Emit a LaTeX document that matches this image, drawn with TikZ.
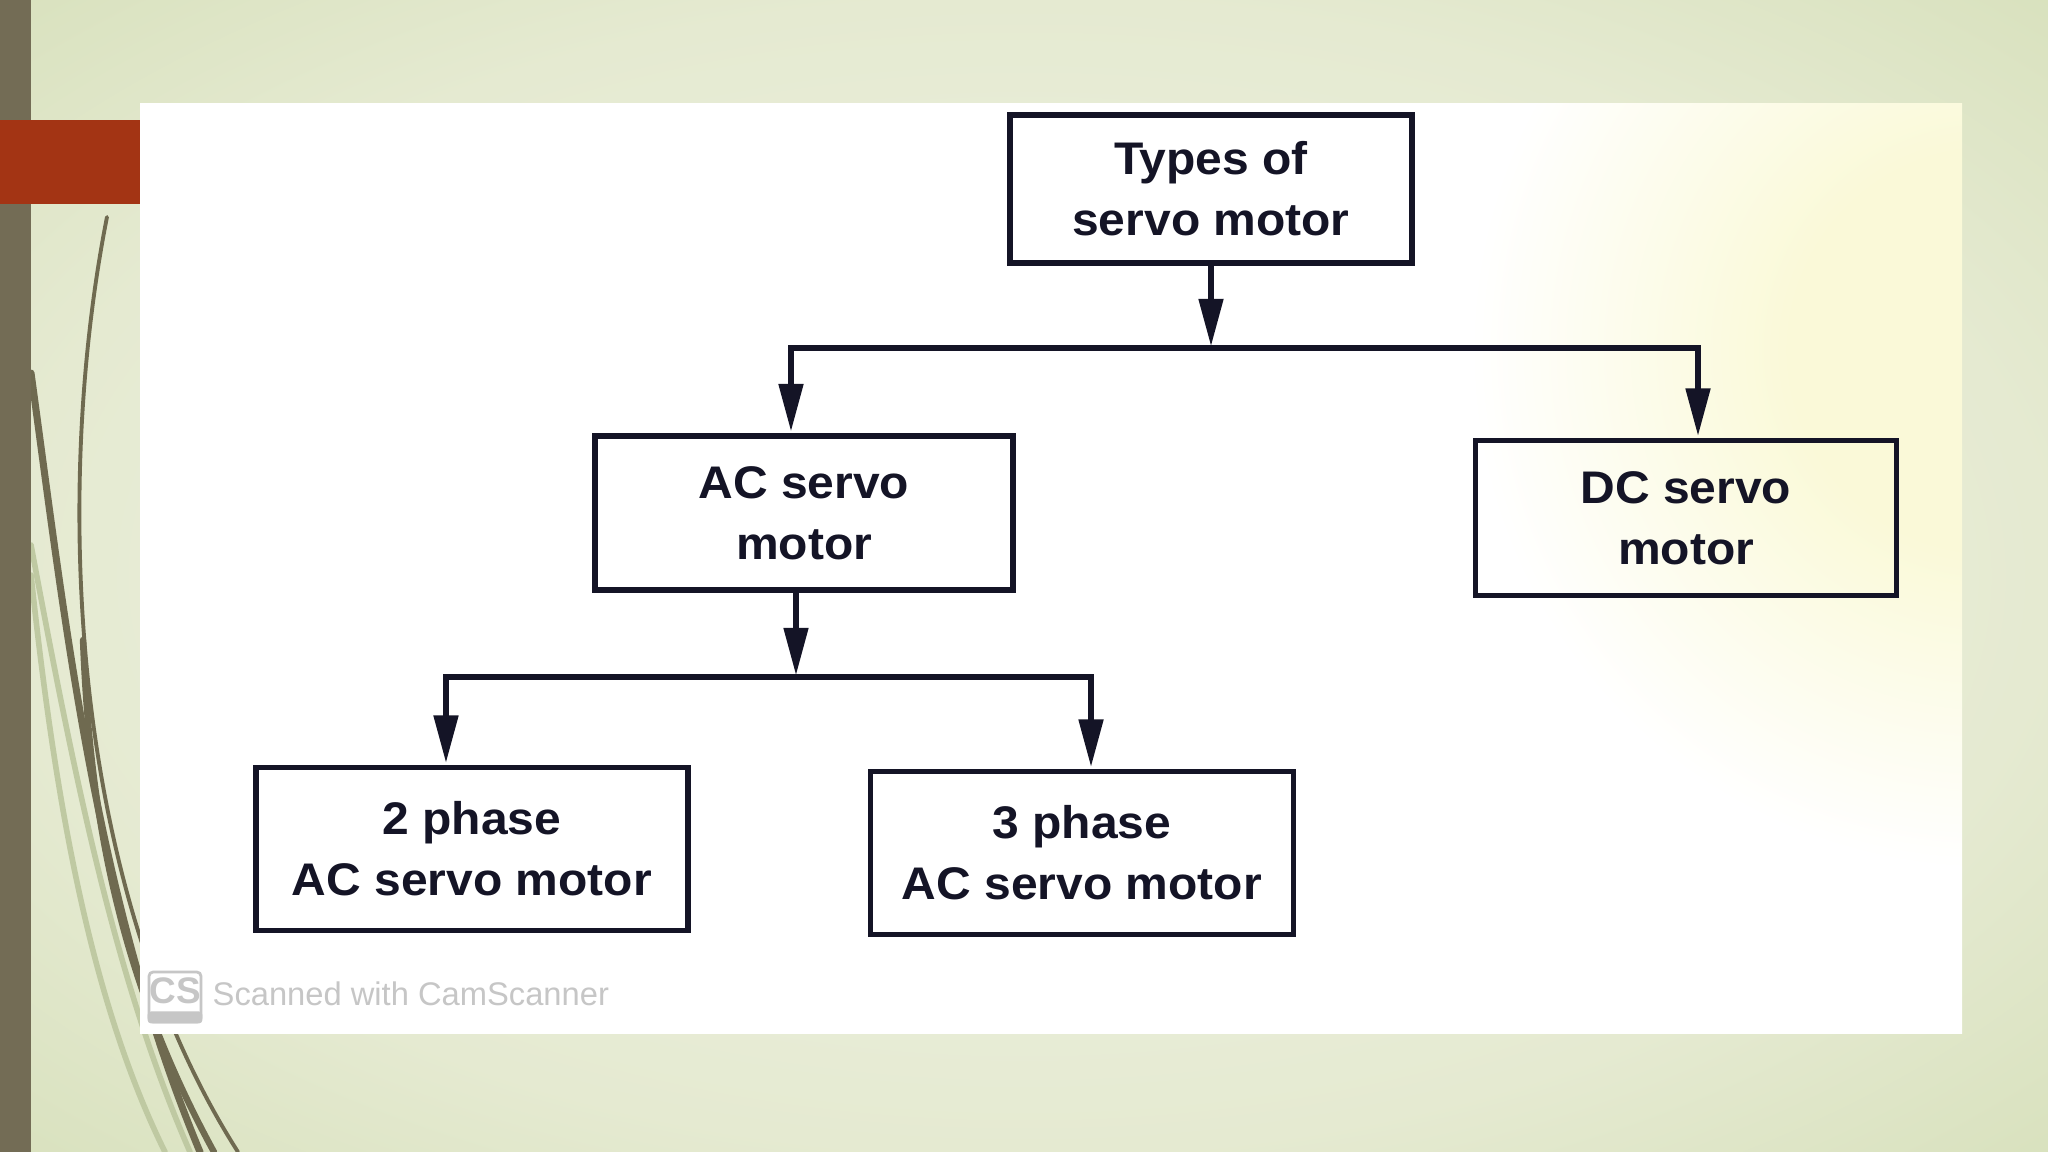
\documentclass[tikz,border=0pt]{standalone}
\usepackage{fontspec}
\setmainfont{Liberation Sans}
\newfontfamily\boxfont{Liberation Sans}[FakeStretch=1.05]
\usetikzlibrary{arrows.meta}
\definecolor{bgin}{HTML}{F1F3E7}
\definecolor{bgmid}{HTML}{E5EAD1}
\definecolor{bgout}{HTML}{D8E1BD}
\definecolor{olivebar}{HTML}{736C55}
\definecolor{redacc}{HTML}{A33414}
\definecolor{darkcurve}{HTML}{6F6A50}
\definecolor{palecurve}{HTML}{BFC9A2}
\definecolor{scanyel}{HTML}{FAF9D8}
\definecolor{ink}{HTML}{141426}
\definecolor{csgrey}{HTML}{C6C6C6}
\pgfdeclareradialshading{slidebg}{\pgfpoint{0bp}{0bp}}{color(0bp)=(bgin); color(25bp)=(bgmid); color(36bp)=(bgout); color(50bp)=(bgout)}
\pgfdeclareradialshading{scantint}{\pgfpoint{0bp}{0bp}}{color(0bp)=(scanyel); color(2.5bp)=(scanyel); color(6.5bp)=(white); color(50bp)=(white)}
\tikzset{
  box/.style={draw=ink, line width=1.6pt, align=center, text=ink, inner sep=0pt,
    font=\boxfont\bfseries\fontsize{13}{17.4}\selectfont},
  conn/.style={draw=ink, line width=1.5pt, -{Triangle[length=13.5pt,width=6.8pt]}, shorten >=0.5pt},
  swoosh/.style={draw=darkcurve, line cap=round},
  paleswoosh/.style={draw=palecurve, line cap=round, line width=1.6pt}
}
\begin{document}
\begin{tikzpicture}[x=0.01cm, y=-0.01cm]
\useasboundingbox (0,0) rectangle (2048,1152);
% slide background
\shade[shading=slidebg] (0,0) rectangle (2048,1152);
% decorative curves
\draw[paleswoosh] (31,575) .. controls (55,800) and (90,1000) .. (165,1152);
\draw[paleswoosh] (31,545) .. controls (75,780) and (115,980) .. (190,1152);
\draw[swoosh, line width=1.1pt] (107,217) .. controls (55,480) and (65,880) .. (238,1152);
\draw[swoosh, line width=2pt] (31,373) .. controls (65,620) and (95,900) .. (200,1152);
\draw[swoosh, line width=1.8pt] (83,640) .. controls (90,820) and (120,980) .. (214,1152);
% left bar and accent
\fill[olivebar] (0,0) rectangle (31,1152);
\fill[redacc] (0,120) rectangle (140,204);
% scanned page
\fill[white] (140,104) rectangle (1962,1033);
\begin{scope}
  \clip (140,104) rectangle (1962,1033);
  \shade[shading=scantint] (1990,350) circle (2000);
\end{scope}
% boxes
\node[box, minimum width=4.02cm, minimum height=1.48cm] (types) at (1211,189) {Types of\\servo motor};
\node[box, minimum width=4.18cm, minimum height=1.54cm] (ac) at (804,513) {AC servo\\motor};
\node[box, minimum width=4.21cm, minimum height=1.55cm] (dc) at (1686,518) {DC servo\\motor};
\node[box, minimum width=4.32cm, minimum height=1.63cm] (p2) at (472,849) {2 phase\\AC servo motor};
\node[box, minimum width=4.23cm, minimum height=1.63cm] (p3) at (1082,853) {3 phase\\AC servo motor};
% connectors
\coordinate (bar1) at (0,348);
\coordinate (bar2) at (0,677);
\coordinate (j1) at (types.south |- bar1);
\coordinate (acin) at ([xshift=-0.13cm]ac.north);
\coordinate (dcin) at ([xshift=0.12cm]dc.north);
\draw[conn] (types.south) -- (j1);
\draw[conn] (j1) -| (acin);
\draw[conn] (j1) -| (dcin);
\coordinate (acout) at ([xshift=-0.08cm]ac.south);
\coordinate (j2) at (acout |- bar2);
\coordinate (p2in) at ([xshift=-0.26cm]p2.north);
\coordinate (p3in) at ([xshift=0.09cm]p3.north);
\draw[conn] (acout) -- (j2);
\draw[conn] (j2) -| (p2in);
\draw[conn] (j2) -| (p3in);
% CamScanner watermark
\node[draw=csgrey, line width=0.8pt, rounded corners=1.2pt, minimum width=0.52cm, minimum height=0.50cm, inner sep=0pt] (cslogo) at (175,997) {};
\fill[csgrey, rounded corners=1pt] (cslogo.south west) rectangle ([yshift=0.12cm]cslogo.south east);
\node[font=\bfseries\fontsize{10.5}{10.5}\selectfont, text=csgrey, inner sep=0pt] (cstxt) at (175,991) {CS};
\node[anchor=base west, font=\fontsize{9.3}{11}\selectfont, text=csgrey, inner sep=0pt] (camsc) at (212,1005) {Scanned with CamScanner};
\end{tikzpicture}
\end{document}
